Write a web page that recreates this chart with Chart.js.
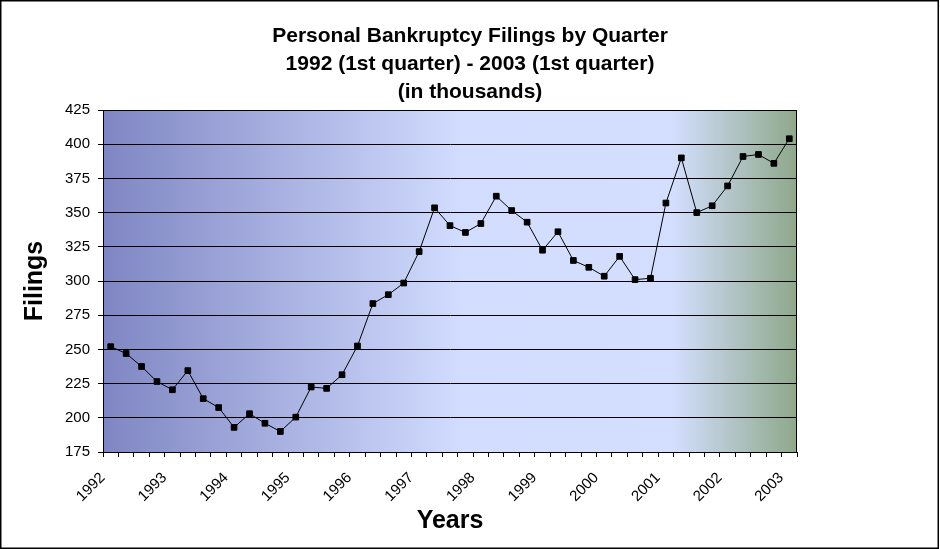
<!DOCTYPE html>
<html>
<head>
<meta charset="utf-8">
<title>Personal Bankruptcy Filings by Quarter</title>
<script src="https://cdn.jsdelivr.net/npm/chart.js@4.4.1/dist/chart.umd.min.js"></script>
<style>
  html, body { margin: 0; padding: 0; background: #fff; }
  #wrap { width: 940px; height: 549px; }
</style>
</head>
<body>
<div id="wrap"><canvas id="filingsChart" width="940" height="549"></canvas></div>
<script>
// Data (thousands of filings per quarter)
const years = ['1992', '1993', '1994', '1995', '1996', '1997', '1998', '1999', '2000', '2001', '2002', '2003'];
const quarters = ['Q1', 'Q2', 'Q3', 'Q4'];
const filings = [
  252, 247, 237.5, 226.5, 220.5, 234.5, 214, 207.5, 193, 203, 196, 190, 200.5, 222.5, 221.5,
  231.5, 252.5, 283.5, 290, 298.5, 321.5, 353.5, 340.5, 335.5, 342, 362, 351.5, 343, 322.5, 336,
  315, 310, 303.5, 318, 301, 302, 357, 390, 350, 355, 369.5, 391, 392.5, 386, 404
];
const yTicks = [175, 200, 225, 250, 275, 300, 325, 350, 375, 400, 425];
const titleLines = ['Personal Bankruptcy Filings by Quarter', '1992 (1st quarter) - 2003 (1st quarter)', '(in thousands)'];

const labels = years.flatMap(y => quarters.map(q => y + ' ' + q)).slice(0, filings.length);

const FONT = '"Liberation Sans", Arial, sans-serif';

// gradient behind the plot area, plus the outer frame
const backdrop = {
  id: 'backdrop',
  beforeDraw(chart) {
    const { ctx, chartArea: a } = chart;
    ctx.save();
    ctx.fillStyle = '#fff';
    ctx.fillRect(0, 0, chart.width, chart.height);
    const g = ctx.createLinearGradient(a.left, 0, a.right, 0);
    g.addColorStop(0, '#7f86c3');
    g.addColorStop(0.52, '#d2ddff');
    g.addColorStop(0.82, '#d4dfff');
    g.addColorStop(1, '#8ea88a');
    ctx.fillStyle = g;
    ctx.fillRect(a.left, a.top, a.right - a.left, a.bottom - a.top);
    ctx.restore();
  },
  afterDraw(chart) {
    const { ctx, chartArea: a } = chart;
    ctx.save();
    ctx.strokeStyle = '#000';
    ctx.lineWidth = 1;
    ctx.strokeRect(a.left + 0.5, a.top + 0.5, a.right - a.left - 1, a.bottom - a.top);
    ctx.lineWidth = 1.5;
    ctx.strokeRect(0.75, 0.75, 937.5, 547.5);
    ctx.restore();
  }
};

new Chart(document.getElementById('filingsChart'), {
  type: 'line',
  data: {
    labels: labels,
    datasets: [{
      data: filings,
      borderColor: '#000',
      borderWidth: 1,
      tension: 0,
      fill: false,
      pointStyle: 'rect',
      pointRadius: 4,
      pointBackgroundColor: '#000',
      pointBorderColor: '#000',
      pointBorderWidth: 1
    }]
  },
  options: {
    responsive: false,
    animation: false,
    layout: { padding: 0 },
    plugins: {
      legend: { display: false },
      tooltip: { enabled: false },
      title: {
        display: true,
        text: titleLines,
        color: '#000',
        font: { family: FONT, size: 21, weight: 'bold', lineHeight: 28 / 21 },
        padding: { top: 22, bottom: 4 }
      }
    },
    scales: {
      x: {
        type: 'category',
        offset: true,
        afterFit(scale) { scale.height = 97; },
        grid: { display: true, drawOnChartArea: false, drawTicks: true, tickLength: 5, color: '#000', offset: true },
        border: { display: true, color: '#000', width: 1 },
        ticks: {
          autoSkip: false,
          minRotation: 45,
          maxRotation: 45,
          padding: 12,
          labelOffset: -8,
          color: '#000',
          font: { family: FONT, size: 15 },
          callback: (v, i) => (i % 4 === 0 ? years[i / 4] : '')
        },
        title: {
          display: true,
          text: 'Years',
          color: '#000',
          font: { family: FONT, size: 25, weight: 'bold' },
          padding: { top: 0, bottom: 13 }
        }
      },
      y: {
        min: yTicks[0],
        max: yTicks[yTicks.length - 1],
        afterFit(scale) { scale.width = 103; },
        grid: { color: '#000', lineWidth: 1, tickLength: 5 },
        border: { display: true, color: '#000', width: 1 },
        ticks: {
          stepSize: yTicks[1] - yTicks[0],
          padding: 8,
          color: '#000',
          font: { family: FONT, size: 15 }
        },
        title: {
          display: true,
          text: 'Filings',
          color: '#000',
          font: { family: FONT, size: 25, weight: 'bold' },
          padding: { top: 20, bottom: 0 }
        }
      },
      // empty axis that only reserves the white margin on the right
      spacer: {
        type: 'linear',
        position: 'right',
        afterFit(scale) { scale.width = 143; },
        grid: { display: false },
        border: { display: false },
        ticks: { display: false }
      }
    }
  },
  plugins: [backdrop]
});
</script>
</body>
</html>
